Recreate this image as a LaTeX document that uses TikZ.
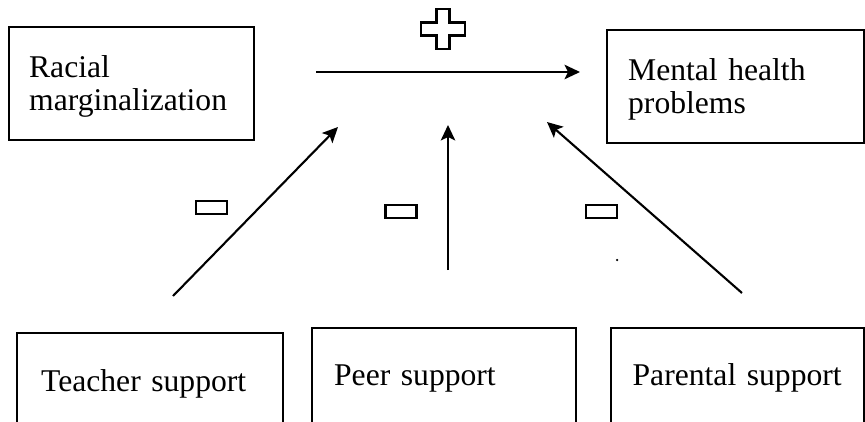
\documentclass[tikz,border=0pt]{standalone}
\usepackage{fontspec}
\setmainfont{Liberation Serif}
\usepackage{tikz}
\usetikzlibrary{arrows.meta,positioning}
\tikzset{
  card/.style={draw=black,line width=1.3pt,align=left,inner ysep=0pt,
               font=\fontsize{18}{18.8}\selectfont},
  topcard/.style={card,anchor=north west,minimum height=2.25cm,text height=0.56cm},
  lowcard/.style={card,anchor=north west,text depth=1.3cm},
  sign/.style={draw=black,line width=1.3pt},
  minus/.style={sign,minimum width=0.62cm,minimum height=0.26cm,inner sep=0pt},
  arr/.style={-{Stealth[length=3.1mm,width=2.9mm,inset=0.7mm]},line width=1.2pt}
}
\begin{document}
\begin{tikzpicture}[x=1cm,y=1cm]
    \useasboundingbox (0,0) rectangle (17.3,8.42);
    \clip (0,0) rectangle (17.3,8.42);

    % outcome and predictor
    \node[topcard,inner xsep=0.4cm,text width=4.1cm] (racial) at (0.16,7.90)
      {Racial\\marginalization};
    \node[topcard,inner xsep=0.42cm,text width=4.3cm] (mental) at (12.12,7.84)
      {Mental health\\problems};

    % moderators
    \node[lowcard,inner xsep=0.48cm,text width=4.36cm,text height=1.16cm] (teacher)
      at (0.32,1.78) {Teacher support};
    \node[lowcard,inner xsep=0.44cm,text width=4.40cm,text height=1.14cm] (peer)
      at (6.22,1.88) {Peer support};
    \node[lowcard,inner xsep=0.43cm,text width=4.20cm,text height=1.14cm] (parental)
      at (12.20,1.88) {Parental support};

    \coordinate (mainfrom) at (6.32,6.98);
    \coordinate (mainto) at (11.60,6.98);
    \coordinate (tfrom) at (3.46,2.50);
    \coordinate (tto) at (6.76,5.88);
    \coordinate (pfrom) at (8.96,3.02);
    \coordinate (pto) at (8.96,5.92);
    \coordinate (afrom) at (14.84,2.56);
    \coordinate (ato) at (10.94,5.98);

    \draw[arr] (mainfrom) -- (mainto);
    \draw[arr] (tfrom) -- (tto);
    \draw[arr] (pfrom) -- (pto);
    \draw[arr] (afrom) -- (ato);

    % signs
    \draw[sign,shift={(8.86,7.84)}] (-0.13,0.40) -- (0.13,0.40) -- (0.13,0.13)
      -- (0.44,0.13) -- (0.44,-0.13) -- (0.13,-0.13) -- (0.13,-0.40)
      -- (-0.13,-0.40) -- (-0.13,-0.13) -- (-0.44,-0.13) -- (-0.44,0.13)
      -- (-0.13,0.13) -- cycle;
    \node[minus] (tminus) at (4.23,4.27) {};
    \node[minus] (pminus) at (8.02,4.19) {};
    \node[minus] (aminus) at (12.03,4.19) {};
    \node[circle,fill=black,inner sep=0pt,minimum size=0.05cm] (dot) at (12.34,3.22) {};
  \end{tikzpicture}
\end{document}
